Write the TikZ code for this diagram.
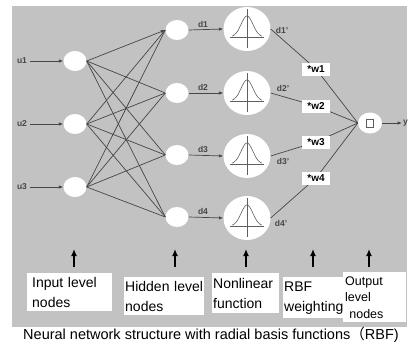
\documentclass[tikz,border=0pt]{standalone}
\usepackage{fontspec}
\setmainfont{Liberation Sans}
\newfontfamily\cjk{Noto Sans CJK SC}
\usetikzlibrary{shapes.geometric,arrows.meta}
\definecolor{bggray}{RGB}{194,194,194}
\definecolor{linegray}{RGB}{70,70,70}
\definecolor{curvegray}{RGB}{95,95,95}
\begin{document}
\begin{tikzpicture}[x=1pt,y=-1pt,
  neuron/.style={ellipse,fill=white,minimum width=23pt,minimum height=20pt,inner sep=0pt},
  gauss/.style={ellipse,fill=white,minimum width=47pt,minimum height=44pt,inner sep=0pt},
  wbox/.style={rectangle,fill=white,minimum width=28pt,minimum height=13pt,inner sep=0pt,font=\fontsize{10}{10}\selectfont\bfseries},
  conn/.style={draw=linegray,line width=0.7pt},
  sig/.style={font=\fontsize{8.5}{8.5}\selectfont\bfseries,text=linegray,inner sep=0pt},
  smalltip/.style={-{Latex[length=4.5pt,width=3.5pt]}},
  lab/.style={fill=white,align=left,anchor=north west,inner ysep=0pt,font=\fontsize{14}{20}\selectfont},
  uparrow/.style={-{Latex[length=7pt,width=6pt]},line width=1.3pt,black}
]
\useasboundingbox (0,0) rectangle (413,343);
\fill[white] (0,0) rectangle (413,343);
\fill[bggray] (12,6) rectangle (407,327);

% input nodes
\node[neuron] (in1) at (75,61) {};
\node[neuron] (in2) at (75,124) {};
\node[neuron] (in3) at (75,187) {};
% hidden nodes
\node[neuron] (h1) at (177,30) {};
\node[neuron] (h2) at (177,93) {};
\node[neuron] (h3) at (177,155) {};
\node[neuron] (h4) at (177,217) {};
% gaussian nodes
\node[gauss] (g1) at (247,29) {};
\node[gauss] (g2) at (247,93) {};
\node[gauss] (g3) at (247,156) {};
\node[gauss] (g4) at (247,218) {};
% output node
\node[neuron,minimum width=24pt,minimum height=21pt] (out) at (370,123) {};
\node[draw=curvegray,line width=0.8pt,minimum width=7pt,minimum height=8pt,inner sep=0pt] (sq) at (370,123) {};

% gaussian drawings
\foreach \g in {g1,g2,g3,g4}{
  \begin{scope}[shift={(\g.center)},draw=curvegray,line width=0.6pt]
    \draw (0,-20) -- (0,19);
    \draw (-17,8) -- (17,8);
    \draw[domain=-15:15,samples=50,smooth] plot ({\x},{8-21*exp(-(\x*\x)/70)});
  \end{scope}
}

% input labels and arrows
\node[sig] (u1) at (22,61) {u1};
\node[sig] (u2) at (22,124) {u2};
\node[sig] (u3) at (22,187) {u3};
\draw[conn,smalltip] (u1.east) ++(3,0) coordinate (ua1) (ua1) -- (in1.west);
\draw[conn,smalltip] (u2.east) ++(3,0) coordinate (ua2) (ua2) -- (in2.west);
\draw[conn,smalltip] (u3.east) ++(3,0) coordinate (ua3) (ua3) -- (in3.west);

% full connections input -> hidden
\foreach \i in {1,2,3}{
  \foreach \j in {2,3,4}{
    \draw[conn] (in\i.east) -- (h\j.west);
  }
}
\draw[conn,smalltip] (in1.east) -- (h1.west);
\draw[conn] (in2.east) -- (h1.west);
\draw[conn] (in3.east) -- (h1.west);

% hidden -> gaussian
\foreach \i in {1,2,3,4}{
  \draw[conn,smalltip] (h\i.east) -- (g\i.west);
}
\node[sig] (d1) at (203,24) {d1};
\node[sig] (d2) at (203,87) {d2};
\node[sig] (d3) at (203,149) {d3};
\node[sig] (d4) at (203,211) {d4};

% weight boxes (positions) and connectors
\coordinate (wc1) at (316,69);
\coordinate (wc2) at (316,106);
\coordinate (wc3) at (316,142);
\coordinate (wc4) at (316,178);
\foreach \i in {1,2,3,4}{
  \draw[conn] (g\i.east) -- (wc\i) -- (out.west);
}
\node[wbox] (w1) at (wc1) {*w1};
\node[wbox] (w2) at (wc2) {*w2};
\node[wbox] (w3) at (wc3) {*w3};
\node[wbox] (w4) at (wc4) {*w4};

\node[sig] (dp1) at (282,30) {d1'};
\node[sig] (dp2) at (283,88) {d2'};
\node[sig] (dp3) at (283,161) {d3'};
\node[sig] (dp4) at (281,223) {d4'};

% output arrow
\coordinate (yend) at (402,123);
\draw[conn,smalltip] (out.east) -- (yend);
\node[sig,anchor=west] (ylab) at (403,123) {y};

% bottom labels
\node[lab,text width=75pt,minimum height=38pt,inner xsep=5pt] (L1) at (27,273) {Input level\\nodes};
\node[lab,text width=78pt,minimum height=38pt,inner xsep=1pt] (L2) at (124,277) {Hidden level\\nodes};
\node[lab,text width=65pt,minimum height=40pt,inner xsep=1pt] (L3) at (212,273) {Nonlinear\\function};
\node[lab,text width=58pt,minimum height=41pt,inner xsep=1pt] (L4) at (283,277) {RBF\\weighting};
\node[lab,text width=59pt,minimum height=50pt,inner xsep=2pt,font=\fontsize{12.5}{16.5}\selectfont] (L5) at (343,272) {Output\\level\\\ nodes};

% up arrows
\foreach \x/\n in {74/1,175/2,246/3,313/4,369/5}{
  \coordinate (ta\n) at (\x,267);
  \coordinate (tb\n) at (\x,249);
  \draw[uparrow] (ta\n) -- (tb\n);
}

% caption
\node[inner sep=0pt,font=\fontsize{14.5}{14.5}\selectfont] (cap) at (211,335) {Neural network structure with radial basis functions{\cjk （}RBF)};
\end{tikzpicture}
\end{document}
